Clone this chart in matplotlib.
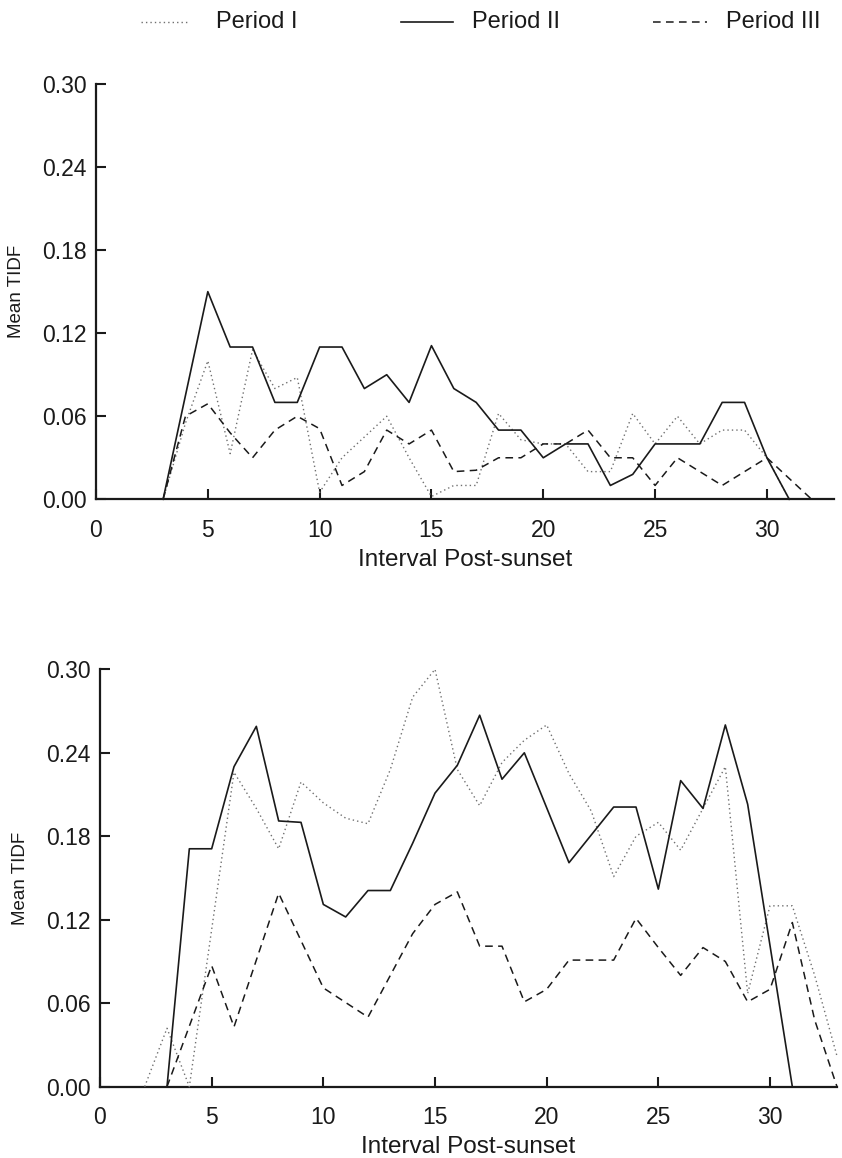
"""Mean TIDF by interval post-sunset for three periods (two panels)."""

import matplotlib
matplotlib.use("Agg")
import matplotlib.pyplot as plt
from matplotlib.lines import Line2D

plt.rcParams["font.family"] = ["Liberation Sans", "DejaVu Sans"]

# ---- top panel ----
top_p1_x = [3, 4, 5, 6, 7, 8, 9, 10, 11, 12, 13, 14, 15, 16, 17, 18, 19, 20,
            21, 22, 23, 24, 25, 26, 27, 28, 29, 30, 31]
top_p1_y = [0.0, 0.055, 0.10, 0.033, 0.108, 0.08, 0.088, 0.005, 0.03, 0.045,
            0.06, 0.03, 0.002, 0.01, 0.01, 0.062, 0.043, 0.04, 0.04, 0.02,
            0.02, 0.062, 0.04, 0.06, 0.04, 0.05, 0.05, 0.03, 0.0]

top_p2_x = [3, 5, 6, 7, 8, 9, 10, 11, 12, 13, 14, 15, 16, 17, 18, 19, 20, 21,
            22, 23, 24, 25, 26, 27, 28, 29, 30, 31]
top_p2_y = [0.0, 0.15, 0.11, 0.11, 0.07, 0.07, 0.11, 0.11, 0.08, 0.09, 0.07,
            0.111, 0.08, 0.07, 0.05, 0.05, 0.03, 0.04, 0.04, 0.01, 0.018,
            0.04, 0.04, 0.04, 0.07, 0.07, 0.03, 0.0]

top_p3_x = [3, 4, 5, 6, 7, 8, 9, 10, 11, 12, 13, 14, 15, 16, 17, 18, 19, 20,
            21, 22, 23, 24, 25, 26, 27, 28, 29, 30, 32]
top_p3_y = [0.0, 0.06, 0.069, 0.048, 0.03, 0.05, 0.06, 0.051, 0.01, 0.02,
            0.05, 0.04, 0.05, 0.02, 0.021, 0.03, 0.03, 0.04, 0.04, 0.05, 0.03,
            0.03, 0.01, 0.03, 0.02, 0.01, 0.02, 0.03, 0.0]

# ---- bottom panel ----
bot_p1_x = [2, 3, 4, 6, 7, 8, 9, 10, 11, 12, 13, 14, 15, 16, 17, 18, 19, 20,
            21, 22, 23, 24, 25, 26, 27, 28, 29, 30, 31, 32, 33]
bot_p1_y = [0.0, 0.042, 0.0, 0.226, 0.20, 0.171, 0.219, 0.204, 0.193, 0.189,
            0.228, 0.28, 0.30, 0.228, 0.202, 0.233, 0.249, 0.26, 0.225, 0.198,
            0.151, 0.18, 0.19, 0.17, 0.20, 0.23, 0.067, 0.13, 0.13, 0.08,
            0.022]

bot_p2_x = [3, 4, 5, 6, 7, 8, 9, 10, 11, 12, 13, 14, 15, 16, 17, 18, 19, 21,
            23, 24, 25, 26, 27, 28, 29, 31]
bot_p2_y = [0.0, 0.171, 0.171, 0.23, 0.259, 0.191, 0.19, 0.131, 0.122, 0.141,
            0.141, 0.175, 0.211, 0.231, 0.267, 0.221, 0.24, 0.161, 0.201,
            0.201, 0.142, 0.22, 0.20, 0.26, 0.203, 0.0]

bot_p3_x = [3, 5, 6, 8, 10, 12, 14, 15, 16, 17, 18, 19, 20, 21, 23, 24, 25,
            26, 27, 28, 29, 30, 31, 32, 33]
bot_p3_y = [0.0, 0.087, 0.043, 0.139, 0.071, 0.05, 0.11, 0.131, 0.14, 0.101,
            0.101, 0.061, 0.07, 0.091, 0.091, 0.121, 0.10, 0.08, 0.10, 0.09,
            0.061, 0.07, 0.118, 0.048, 0.0]

y_ticks = [0.00, 0.06, 0.12, 0.18, 0.24, 0.30]
x_ticks = [0, 5, 10, 15, 20, 25, 30]

styles = {
    "Period I": dict(color="#707070", lw=1.0, linestyle=(0, (1, 2.2))),
    "Period II": dict(color="#1a1a1a", lw=1.2, linestyle="-"),
    "Period III": dict(color="#1a1a1a", lw=1.1, linestyle=(0, (5, 3.5))),
}

W, H = 842, 1158
fig = plt.figure(figsize=(W / 100, H / 100), dpi=100)

ax_top = fig.add_axes([96 / W, 1 - 499.3 / H, 738 / W, 415.3 / H])
ax_bot = fig.add_axes([100 / W, 1 - 1086.7 / H, 737 / W, 417.4 / H])

panels = [
    (ax_top, [(top_p1_x, top_p1_y), (top_p2_x, top_p2_y), (top_p3_x, top_p3_y)]),
    (ax_bot, [(bot_p1_x, bot_p1_y), (bot_p2_x, bot_p2_y), (bot_p3_x, bot_p3_y)]),
]

for ax, series in panels:
    for (xs, ys), name in zip(series, styles):
        ax.plot(xs, ys, **styles[name], clip_on=False, zorder=3)
    ax.set_xlim(0, 33)
    ax.set_ylim(0, 0.30)
    ax.set_xticks(x_ticks)
    ax.set_yticks(y_ticks)
    ax.set_yticklabels([f"{v:.2f}" for v in y_ticks])
    for side in ("top", "right"):
        ax.spines[side].set_visible(False)
    for side in ("left", "bottom"):
        ax.spines[side].set_linewidth(1.6)
        ax.spines[side].set_color("#1a1a1a")
    ax.tick_params(direction="in", length=7, width=1.5, color="#1a1a1a",
                   labelsize=16.5, labelcolor="#1a1a1a")
    ax.tick_params(axis="y", pad=7)
    ax.tick_params(axis="x", pad=14)
    ax.set_xlabel("Interval Post-sunset", fontsize=17.5, color="#1a1a1a",
                  labelpad=5)
    ax.set_ylabel("Mean TIDF", fontsize=13.5, color="#1a1a1a", labelpad=12)

# legend across the top
legend_y = 1 - 22 / H
for (x0, x1, tx), name in zip([(141, 188, 216), (401, 453, 472),
                               (653, 707, 726)], styles):
    fig.add_artist(Line2D([x0 / W, x1 / W], [legend_y, legend_y],
                          transform=fig.transFigure, **styles[name]))
    fig.text(tx / W, legend_y, name, fontsize=17, color="#1a1a1a",
             va="center", ha="left")

fig.savefig("out.png", dpi=100, facecolor="white")
